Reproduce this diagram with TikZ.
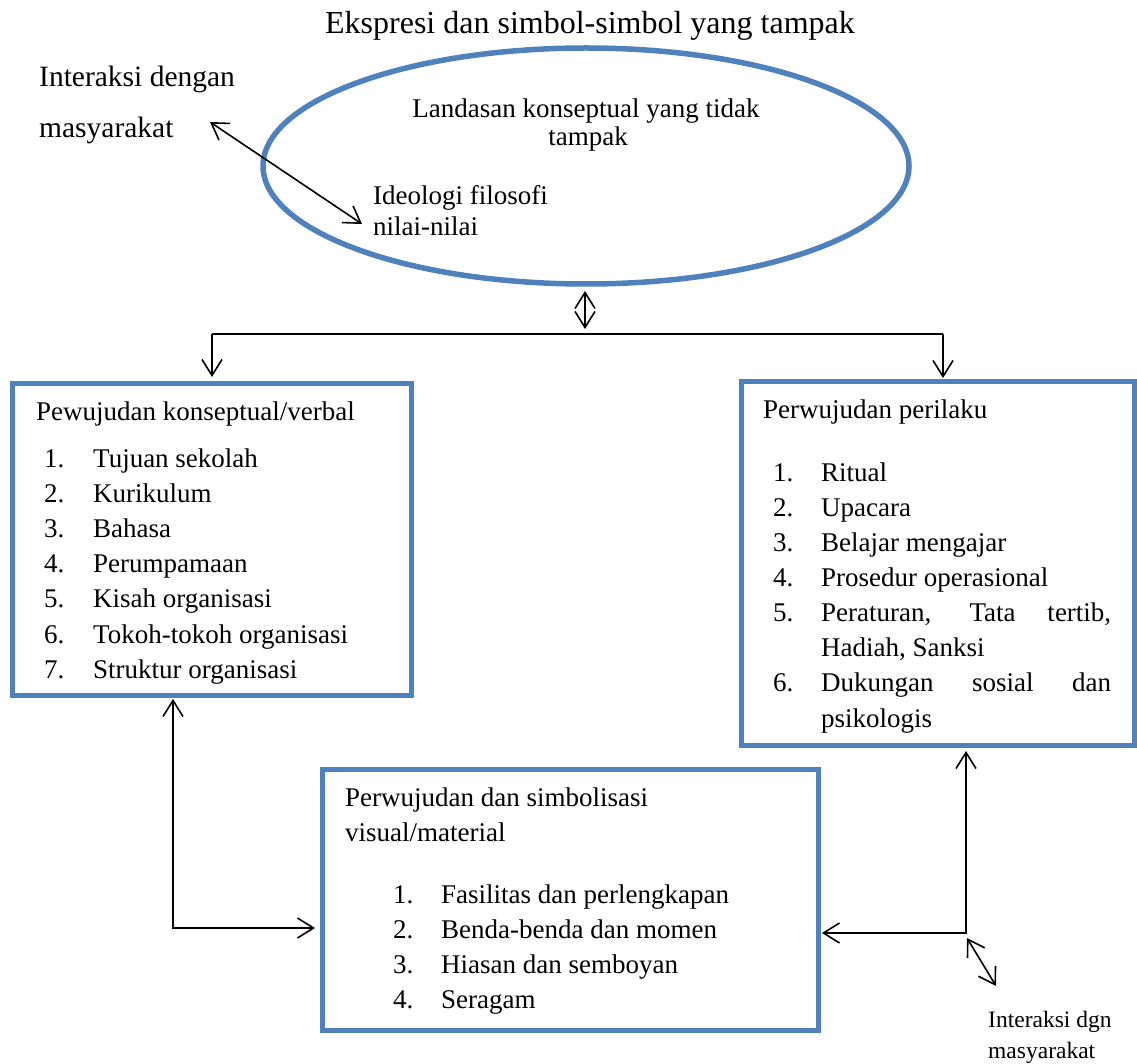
\documentclass[tikz,border=0pt]{standalone}
\usepackage{fontspec}
\setmainfont{Liberation Serif}
\usetikzlibrary{arrows.meta,shapes.geometric}
\definecolor{boxblue}{HTML}{4F81BD}
\begin{document}
\begin{tikzpicture}[x=1pt,y=-1pt,
  txt/.style={inner sep=0pt, anchor=base west, font=\fontsize{27}{32}\selectfont},
  ctxt/.style={inner sep=0pt, anchor=base, font=\fontsize{27}{32}\selectfont},
  bluebox/.style={draw=boxblue, line width=5pt, rectangle, inner sep=0pt, outer sep=0pt},
  conn/.style={line width=1.6pt, black},
  arr/.style={conn, -{Straight Barb[length=16pt,width=20pt,line width=1.6pt]}},
  dbl/.style={conn, {Straight Barb[length=16pt,width=20pt,line width=1.6pt]}-{Straight Barb[length=16pt,width=20pt,line width=1.6pt]}}
]
\useasboundingbox (0,0) rectangle (1137,1064);

% title
\node[inner sep=0pt, anchor=base, font=\fontsize{32}{36}\selectfont] (title) at (590,34) {Ekspresi dan simbol-simbol yang tampak};

% ellipse
\node[draw=boxblue, line width=5.5pt, ellipse, minimum width=646pt, minimum height=236pt, inner sep=0pt, outer sep=0pt] (ell) at (586,166) {};
\node[ctxt] (land1) at (586,118) {Landasan konseptual yang tidak};
\node[ctxt] (land2) at (588,146) {tampak};
\node[txt] (ideo1) at (373,205) {Ideologi filosofi};
\node[txt] (ideo2) at (373,236) {nilai-nilai};

% top-left label
\node[inner sep=0pt, anchor=base west, font=\fontsize{29.5}{34}\selectfont] (int1) at (39,87) {Interaksi dengan};
\node[inner sep=0pt, anchor=base west, font=\fontsize{29.5}{34}\selectfont] (int2) at (39,138) {masyarakat};
\coordinate (a1) at (210,122);
\coordinate (a2) at (362,224);
\draw[dbl] (a1) -- (a2);

% boxes
\node[bluebox, minimum width=399pt, minimum height=312pt] (lbox) at (211.5,539) {};
\node[bluebox, minimum width=393pt, minimum height=364pt] (rbox) at (937.5,563) {};
\node[bluebox, minimum width=496pt, minimum height=261pt] (bbox) at (570,899.5) {};

% left box text
\node[txt] (lt) at (36,420) {Pewujudan konseptual/verbal};
\foreach \n/\t [count=\i from 0] in {1/Tujuan sekolah,2/Kurikulum,3/Bahasa,4/Perumpamaan,5/Kisah organisasi,6/Tokoh-tokoh organisasi,7/Struktur organisasi}{
  \node[txt] (ln\n) at (44,467+35.2*\i) {\n.};
  \node[txt] (li\n) at (93,467+35.2*\i) {\t};
}

% right box text
\node[txt] (rt) at (763,418) {Perwujudan perilaku};
\node[txt] (rn1) at (773,481) {1.};
\node[txt] (ri1) at (821,481) {Ritual};
\node[txt] (rn2) at (773,516) {2.};
\node[txt] (ri2) at (821,516) {Upacara};
\node[txt] (rn3) at (773,551) {3.};
\node[txt] (ri3) at (821,551) {Belajar mengajar};
\node[txt] (rn4) at (773,586) {4.};
\node[txt] (ri4) at (821,586) {Prosedur operasional};
\node[txt] (rn5) at (773,621) {5.};
\node[txt] (ri5) at (821,621) {\makebox[290pt][s]{Peraturan, Tata tertib,}};
\node[txt] (ri5b) at (821,656) {Hadiah, Sanksi};
\node[txt] (rn6) at (773,691) {6.};
\node[txt] (ri6) at (821,691) {\makebox[290pt][s]{Dukungan sosial dan}};
\node[txt] (ri6b) at (821,727) {psikologis};

% bottom box text
\node[txt] (bt1) at (345,806) {Perwujudan dan simbolisasi};
\node[txt] (bt2) at (345,841) {visual/material};
\foreach \n/\t [count=\i from 0] in {1/Fasilitas dan perlengkapan,2/Benda-benda dan momen,3/Hiasan dan semboyan,4/Seragam}{
  \node[txt] (bn\n) at (393,903+35*\i) {\n.};
  \node[txt] (bi\n) at (441,903+35*\i) {\t};
}

% bottom-right label
\node[inner sep=0pt, anchor=base west, font=\fontsize{23.5}{28}\selectfont] (br1) at (988,1027) {Interaksi dgn};
\node[inner sep=0pt, anchor=base west, font=\fontsize{23.5}{28}\selectfont] (br2) at (988,1058) {masyarakat};

% top connectors
\coordinate (j) at (585,334);
\coordinate (hl) at (212,334);
\coordinate (hr) at (943,334);
\draw[dbl, shorten <=7pt, shorten >=5pt] (ell.south -| j) -- (j);
\draw[conn] (hl) -- (hr);
\draw[arr, shorten >=6pt] (hl) -- (lbox.north -| hl);
\draw[arr, shorten >=3pt] (hr) -- (rbox.north -| hr);

% side connectors
\coordinate (lc) at (173,928);
\coordinate (rc) at (966,933);
\draw[dbl, shorten <=4pt, shorten >=7pt] (lbox.south -| lc) |- (bbox.west |- lc);
\draw[dbl, shorten <=6pt, shorten >=4pt] (rbox.south -| rc) |- (bbox.east |- rc);

% bottom-right small arrow
\coordinate (b1) at (967,938);
\coordinate (b2) at (996,986);
\draw[dbl] (b1) -- (b2);
\end{tikzpicture}
\end{document}
